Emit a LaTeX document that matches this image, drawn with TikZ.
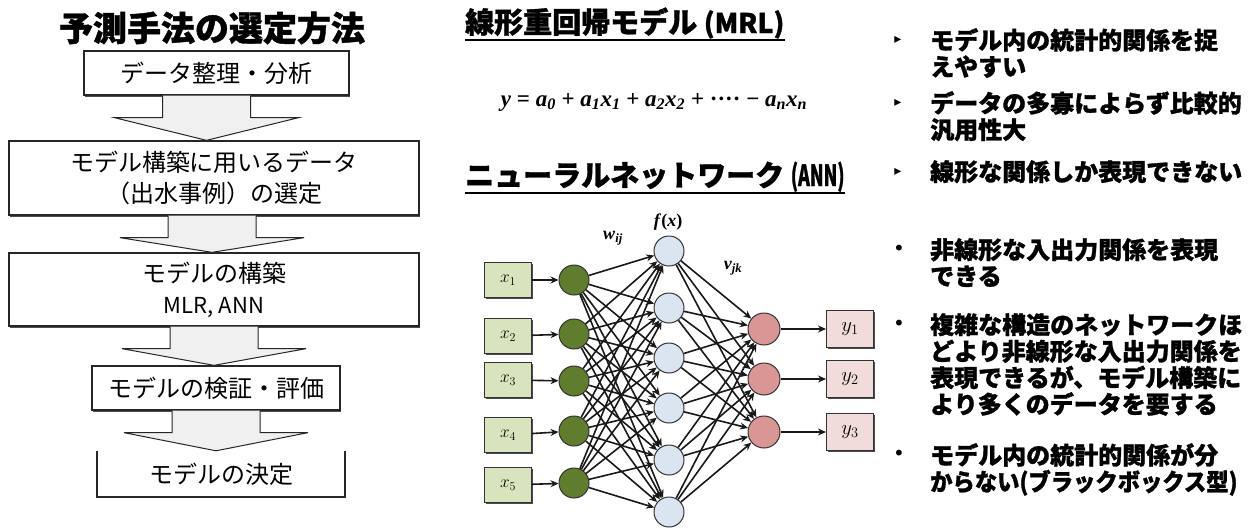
\documentclass[tikz,border=0pt]{standalone}
\usepackage{fontspec}
\setmainfont{Liberation Serif}
\newfontfamily\jp{Noto Sans CJK JP}
\newfontfamily\jpheavy{Noto Sans CJK JP}[FakeBold=1.2]
\newfontfamily\sym{DejaVu Sans}
\usetikzlibrary{arrows.meta,shadows,calc}

\definecolor{ingreen}{RGB}{215,228,189}
\definecolor{nodegreen}{RGB}{95,125,45}
\definecolor{nodeblue}{RGB}{219,229,241}
\definecolor{nodered}{RGB}{217,150,148}
\definecolor{outred}{RGB}{242,220,219}
\definecolor{flowgray}{RGB}{240,240,240}

% italic variable with an italic subscript
\newcommand\vsub[2]{\textit{#1}\textsubscript{\textit{#2}}}

\tikzset{
  flowbox/.style={draw=black!85, line width=1.3pt, fill=white, align=center,
    inner sep=0pt, font=\jp\fontsize{24}{31}\selectfont,
    drop shadow={shadow xshift=1pt, shadow yshift=-1.5pt, fill=black!70, opacity=1}},
  flowarrow/.style={draw=black!85, line width=1pt, fill=flowgray, line join=miter},
  inbox/.style={draw=black!80, fill=ingreen, line width=1pt, minimum width=47pt,
    minimum height=35pt, inner sep=0pt, font=\fontsize{17}{17}\selectfont,
    drop shadow={shadow xshift=1pt, shadow yshift=-1.5pt, fill=black!70, opacity=1}},
  outbox/.style={inbox, fill=outred, minimum height=37pt, font=\fontsize{21}{21}\selectfont},
  gnode/.style={circle, draw=black!80, line width=1pt, fill=nodegreen, minimum size=30pt, inner sep=0pt},
  hnode/.style={gnode, fill=nodeblue},
  onode/.style={gnode, fill=nodered, minimum size=32pt},
  conn/.style={draw=black!90, line width=1.6pt, -{Stealth[length=8pt,width=7pt]}},
  heading/.style={font=\jpheavy\bfseries\fontsize{29}{30}\selectfont, anchor=base west, inner sep=0pt},
  point/.style={font=\jpheavy\bfseries\fontsize{24}{26.5}\selectfont, anchor=north west,
    inner sep=0pt, align=left},
  tri/.style={font=\sym\fontsize{14}{14}\selectfont, inner sep=0pt},
  dot/.style={font=\sym\fontsize{20}{20}\selectfont, inner sep=0pt},
  mathlabel/.style={font=\bfseries\fontsize{18}{18}\selectfont, inner sep=0pt},
  formula/.style={font=\bfseries\fontsize{23}{23}\selectfont, inner sep=0pt}
}

% block arrow from the lower edge of one box to the upper edge of the next
\newcommand\flowstep[3]{%
  \draw[flowarrow] let \p1=(#2.south), \p2=(#3.north) in
    (#1pt-44pt,\y1) -- (#1pt-44pt,\y1-22pt) -- (#1pt-92pt,\y1-22pt) --
    (#1pt,\y2) -- (#1pt+92pt,\y1-22pt) -- (#1pt+44pt,\y1-22pt) -- (#1pt+44pt,\y1);}

\begin{document}
\begin{tikzpicture}[x=1pt,y=-1pt]
\useasboundingbox[fill=white] (0,0) rectangle (1256,528);

% ---------------- selection procedure ----------------
\node[font=\jpheavy\bfseries\fontsize{34}{34}\selectfont, inner sep=0pt] (title) at (212,28) {予測手法の選定方法};

\node[flowbox, minimum width=265pt, minimum height=44pt] (b1) at (216.5,73) {データ整理・分析};
\node[flowbox, minimum width=410pt, minimum height=74pt] (b2) at (214,178) {モデル構築に用いるデータ\\（出水事例）の選定};
\node[flowbox, minimum width=410pt, minimum height=73pt] (b3) at (214,289.5) {モデルの構築\\{\fontsize{22}{22}\selectfont MLR, ANN}};
\node[flowbox, minimum width=248pt, minimum height=44pt] (b4) at (216,388) {モデルの検証・評価};
\node[inner sep=0pt, minimum width=248pt, minimum height=46pt, font=\jp\fontsize{24}{31}\selectfont] (b5) at (221,474) {モデルの決定};

\flowstep{206.5}{b1}{b2}
\flowstep{212}{b2}{b3}
\flowstep{214}{b3}{b4}
\flowstep{216}{b4}{b5}

\draw[draw=black!85, line width=1.5pt] (b5.north west) -- (b5.south west) -- (b5.south east) -- (b5.north east);

% ---------------- model headings and formula ----------------
\node[heading] (mrl) at (465,33) {線形重回帰モデル {\fontsize{27}{27}\selectfont (MRL)}};
\draw[line width=1.6pt] ([yshift=-7pt]mrl.base west) -- ([yshift=-7pt]mrl.base east);

\node[formula] (eq) at (654,102) {\textit{y} = \vsub{a}{0} + \vsub{a}{1}\vsub{x}{1} + \vsub{a}{2}\vsub{x}{2} + ···· − \vsub{a}{n}\vsub{x}{n}};

\node[heading] (ann) at (465,186) {ニューラルネットワーク {\scalebox{0.62}[1]{(ANN)}}};
\draw[line width=1.6pt] ([yshift=-7pt]ann.base west) -- ([yshift=-7pt]ann.base east);

% ---------------- network ----------------
\foreach \i/\y in {1/280,2/336,3/380,4/435,5/485}{
  \node[inbox] (in\i) at (508,\y) {$x_{\i}$};
  }
\foreach \i/\y in {1/280,2/334,3/381,4/431,5/483}{
  \node[gnode] (g\i) at (574,\y) {};
  }
\foreach \j/\y in {1/251,2/308,3/358,4/408,5/460,6/512}{
  \node[hnode] (h\j) at (669,\y) {};
  }
\foreach \k/\y in {1/329,2/379,3/432}{
  \node[onode] (o\k) at (764,\y) {};
  \node[outbox] (out\k) at (850,\y) {$y_{\k}$};
  }

\foreach \i in {1,...,5}{
  \draw[conn] (in\i) -- (g\i);
  \foreach \j in {1,...,6}{ \draw[conn] (g\i) -- (h\j); }
  }
\foreach \j in {1,...,6}{
  \foreach \k in {1,2,3}{ \draw[conn] (h\j) -- (o\k); }
  }
\foreach \k in {1,2,3}{ \draw[conn] (o\k) -- (out\k); }

\node[mathlabel] (fx) at (668,222) {\textit{f}(\textit{x})};
\node[mathlabel] (wij) at (613,238) {\vsub{w}{ij}};
\node[mathlabel] (vjk) at (733,268) {\vsub{v}{jk}};

% ---------------- characteristics ----------------
\node[tri] (m1) at (898,40) {▸};
\node[point] (p1) at (930,28) {モデル内の統計的関係を捉\\えやすい};
\node[tri] (m2) at (898,103) {▸};
\node[point] (p2) at (930,91) {データの多寡によらず比較的\\汎用性大};
\node[tri] (m3) at (898,172) {▸};
\node[point] (p3) at (930,160) {線形な関係しか表現できない};

\node[dot] (d1) at (899,250) {•};
\node[point] (q1) at (930,238) {非線形な入出力関係を表現\\できる};
\node[dot] (d2) at (899,325) {•};
\node[point] (q2) at (930,313) {複雑な構造のネットワークほ\\どより非線形な入出力関係を\\表現できるが、モデル構築に\\より多くのデータを要する};
\node[dot] (d3) at (899,455) {•};
\node[point] (q3) at (930,443) {モデル内の統計的関係が分\\\scalebox{0.93}[1]{からない(ブラックボックス型)}};
\end{tikzpicture}
\end{document}
